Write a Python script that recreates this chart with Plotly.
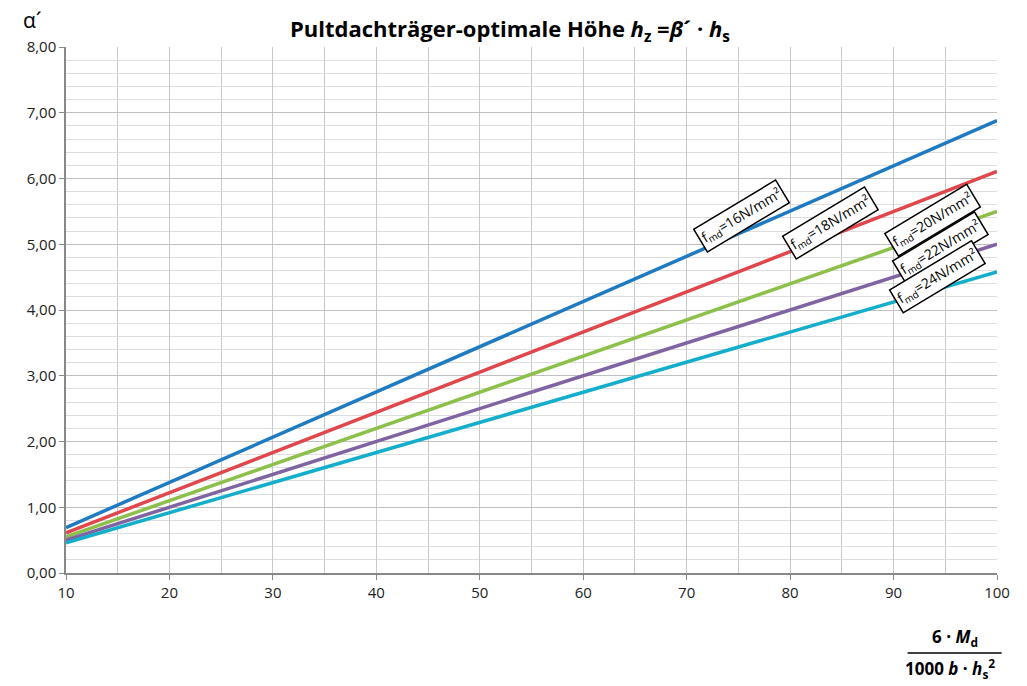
import plotly.graph_objects as go

x_vals = [10, 100]
f16 = [0.69, 6.88]
f18 = [0.61, 6.11]
f20 = [0.55, 5.50]
f22 = [0.50, 5.00]
f24 = [0.46, 4.58]
series_names = ["f<sub>md</sub>=16N/mm²", "f<sub>md</sub>=18N/mm²", "f<sub>md</sub>=20N/mm²",
                "f<sub>md</sub>=22N/mm²", "f<sub>md</sub>=24N/mm²"]
series_vals = [f16, f18, f20, f22, f24]
colors = ["#1F7BC1", "#E0474C", "#8DC04A", "#8064A2", "#13AECB"]
label_pos = [(75.3, 5.43), (83.9, 5.32), (93.8, 5.37), (94.5, 4.94), (94.2, 4.50)]

FONT = "Open Sans, Liberation Sans, sans-serif"

fig = go.Figure()
for name, vals, c in zip(series_names, series_vals, colors):
    fig.add_trace(go.Scatter(x=x_vals, y=vals, mode="lines", name=name,
                             line=dict(color=c, width=3.5), showlegend=False))

for name, (lx, ly) in zip(series_names, label_pos):
    fig.add_annotation(x=lx, y=ly, xref="x", yref="y", text=name, showarrow=False,
                       textangle=-31, font=dict(family=FONT, size=14, color="black"),
                       bgcolor="white", bordercolor="black", borderwidth=1.5, borderpad=2)

fig.add_annotation(xref="paper", yref="paper", x=0.477, y=1.0, yshift=17, xanchor="center", yanchor="middle",
                   text="<b>Pultdachträger-optimale Höhe <i>h</i><sub>z</sub> =<i>β</i>´ · <i>h</i><sub>s</sub></b>",
                   showarrow=False, font=dict(family=FONT, size=22, color="black"))
fig.add_annotation(xref="paper", yref="paper", x=-0.036, y=1.0, yshift=27, xanchor="center", yanchor="middle",
                   text="α´", showarrow=False, font=dict(family=FONT, size=21, color="black"))
fig.add_annotation(xref="paper", yref="paper", x=0.955, y=-0.122, xanchor="center", yanchor="middle",
                   text="<b>6 · <i>M</i><sub>d</sub></b>", showarrow=False,
                   font=dict(family=FONT, size=17, color="black"))
fig.add_annotation(xref="paper", yref="paper", x=0.950, y=-0.181, xanchor="center", yanchor="middle",
                   text="<b>1000 <i>b</i> · <i>h</i><sub>s</sub><sup>2</sup></b>", showarrow=False,
                   font=dict(family=FONT, size=17, color="black"))
fig.add_shape(type="line", xref="paper", yref="paper", x0=0.904, x1=1.005, y0=-0.152, y1=-0.152,
              line=dict(color="black", width=1.5))

fig.update_layout(
    width=1027, height=686,
    margin=dict(l=66, r=30, t=47, b=113),
    paper_bgcolor="white", plot_bgcolor="white",
    separators=",.",
    font=dict(family=FONT, size=16, color="#222"),
    xaxis=dict(range=[10, 100], dtick=10, tick0=10, showgrid=True, gridcolor="#c8c8c8", gridwidth=1,
               minor=dict(dtick=5, tick0=10, showgrid=True, gridcolor="#c8c8c8", gridwidth=1),
               showline=True, linecolor="#888", linewidth=1.5, ticks="outside", ticklen=5, tickcolor="#888",
               zeroline=False, tickfont=dict(size=15)),
    yaxis=dict(range=[0, 8], dtick=1, tickformat=".2f", showgrid=True, gridcolor="#c0c0c0", gridwidth=1,
               minor=dict(dtick=0.2, showgrid=True, gridcolor="#dedede", gridwidth=1),
               showline=True, linecolor="#888", linewidth=1.5, ticks="outside", ticklen=5, tickcolor="#888",
               zeroline=False, tickfont=dict(size=15)),
)

fig.write_html("out.html", config={"displayModeBar": False},
               post_script="document.body.style.margin='0';document.body.style.overflow='hidden';")
